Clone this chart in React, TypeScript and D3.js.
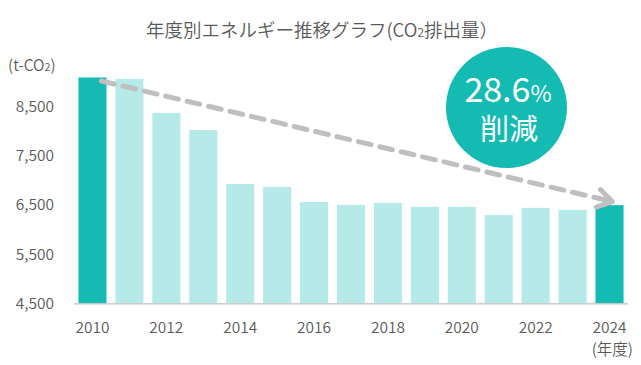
import React from 'react';
import * as d3 from 'd3';

// CO2 emissions by fiscal year (t-CO2)
const years = ['2010', '2011', '2012', '2013', '2014', '2015', '2016', '2017', '2018', '2019', '2020', '2021', '2022', '2023', '2024'];
const emissions = [9090, 9060, 8370, 8020, 6925, 6865, 6560, 6500, 6540, 6460, 6460, 6295, 6440, 6400, 6495];
const yTicks = [4500, 5500, 6500, 7500, 8500];
const xLabelYears = ['2010', '2012', '2014', '2016', '2018', '2020', '2022', '2024'];
const highlighted = ['2010', '2024'];

const W = 641;
const H = 365;
const font = '"Noto Sans CJK JP", "Noto Sans", sans-serif';
const textColor = '#5a5a5a';
const dark = '#13bbb3';
const light = '#b6eae8';

function App() {
  const x = d3.scaleBand<string>().domain(years).range([74, 628]).paddingInner(0.24).paddingOuter(0.12);
  const y = d3.scaleLinear().domain([4500, 9500]).range([303.3, 57.3]);
  const fmt = d3.format(',');

  // dashed trend arrow from first bar to last bar
  const first = years[0];
  const last = years[years.length - 1];
  const x1 = x(first)! + x.bandwidth() * 0.82;
  const y1 = y(emissions[0]) + 3.5;
  const x2 = x(last)! + x.bandwidth() * 0.6;
  const y2 = y(emissions[emissions.length - 1]) - 3.5;
  const ang = Math.atan2(y2 - y1, x2 - x1);
  const armLen = 17;
  const armAng = (32 * Math.PI) / 180;
  const arm = (s: number) => [x2 - armLen * Math.cos(ang + s * armAng), y2 - armLen * Math.sin(ang + s * armAng)];
  const [ax1, ay1] = arm(1);
  const [ax2, ay2] = arm(-1);

  return (
    <svg width={W} height={H} style={{ position: 'absolute', left: 0, top: 0, background: '#fff' }} fontFamily={font} fontWeight={350}>
      <text x={322} y={37} textAnchor="middle" fontSize={18.5} fill={textColor}>
        年度別エネルギー推移グラフ(CO<tspan fontSize={12}>2</tspan>排出量）
      </text>
      <text x={8} y={71} fontSize={15.5} fill={textColor}>
        (t-CO<tspan fontSize={11}>2</tspan>)
      </text>

      {yTicks.map((t) => (
        <text key={t} x={54} y={y(t) + 5.5} textAnchor="end" fontSize={15.5} fill={textColor}>
          {fmt(t)}
        </text>
      ))}

      {years.map((yr, i) => (
        <rect
          key={yr}
          x={x(yr)}
          y={y(emissions[i])}
          width={x.bandwidth()}
          height={y(4500) - y(emissions[i])}
          fill={highlighted.includes(yr) ? dark : light}
        />
      ))}

      <line x1={74} x2={628} y1={y(4500) + 0.5} y2={y(4500) + 0.5} stroke="#bfbfbf" strokeWidth={1.3} />

      {xLabelYears.map((yr) => (
        <text key={yr} x={x(yr)! + x.bandwidth() / 2} y={333} textAnchor="middle" fontSize={15.5} fill={textColor}>
          {yr}
        </text>
      ))}
      <text x={633} y={355} textAnchor="end" fontSize={15.5} fill={textColor}>
        (年度)
      </text>

      <g stroke="#bfbfbf" strokeWidth={5} fill="none" strokeLinecap="round">
        <line x1={x1} y1={y1} x2={x2 - 4 * Math.cos(ang)} y2={y2 - 4 * Math.sin(ang)} strokeDasharray="13 9" />
        <polyline points={`${ax1},${ay1} ${x2},${y2} ${ax2},${ay2}`} strokeLinejoin="round" />
      </g>

      <circle cx={506.5} cy={107.5} r={60.5} fill={dark} />
      <text x={508} y={101.5} textAnchor="middle" fill="#fff" fontWeight={400}>
        <tspan fontSize={34}>28.6</tspan>
        <tspan fontSize={23}>%</tspan>
      </text>
      <text x={509} y={139.5} textAnchor="middle" fontSize={29} fill="#fff" fontWeight={400}>
        削減
      </text>
    </svg>
  );
}

export default App;
